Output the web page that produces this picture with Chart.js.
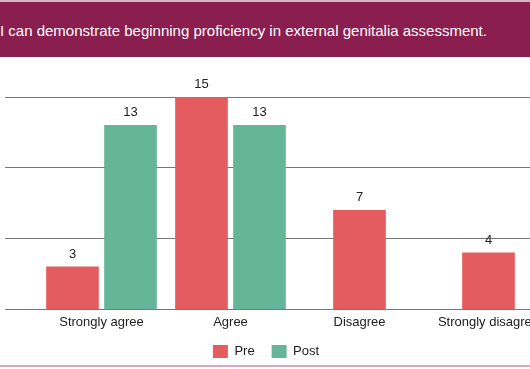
<!DOCTYPE html>
<html>
<head>
<meta charset="utf-8">
<script src="https://cdn.jsdelivr.net/npm/chart.js@4"></script>
<style>
  html, body { margin: 0; padding: 0; background: #fff; overflow: hidden; width: 530px; height: 369px; }
  #topline { position: absolute; left: 0; top: 0; width: 530px; height: 2px; background: #d9b3c4; }
  #title {
    position: absolute; left: 0; top: 2px; width: 530px; height: 55px;
    background: #8a1e4e; color: #fff; white-space: nowrap;
    font: 15px "Liberation Sans", Arial, sans-serif; line-height: 57px;
  }
  #wrap { position: absolute; left: 0; top: 57px; width: 556px; height: 318px; }
  #foot { position: absolute; left: 0; top: 365px; width: 530px; height: 2px; background: #d6a9bd; z-index: 2; }
</style>
</head>
<body>
<div id="topline"></div>
<div id="title">I can demonstrate beginning proficiency in external genitalia assessment.</div>
<div id="wrap"><canvas id="chart"></canvas></div>
<div id="foot"></div>
<script>
const categories = ['Strongly agree', 'Agree', 'Disagree', 'Strongly disagree'];
const preValues = [3, 15, 7, 4];
const postValues = [13, 13, null, null];
const seriesNames = ['Pre', 'Post'];
const yTicks = [0, 5, 10, 15];

Chart.defaults.font.family = '"Liberation Sans", Arial, sans-serif';
Chart.defaults.color = '#222';

// numbers above bars
const valueLabels = {
    id: 'valueLabels',
    afterDatasetsDraw(chart) {
        const ctx = chart.ctx;
        ctx.save();
        ctx.font = '13px "Liberation Sans", Arial, sans-serif';
        ctx.fillStyle = '#222';
        ctx.textAlign = 'center';
        ctx.textBaseline = 'alphabetic';
        chart.data.datasets.forEach((ds, i) => {
            chart.getDatasetMeta(i).data.forEach((bar, j) => {
                const v = ds.data[j];
                if (v === null || v === undefined) return;
                ctx.fillText(String(v), bar.x, bar.y - 9);
            });
        });
        ctx.restore();
    }
};

// the plot runs past the right edge, so centre the legend on the visible part
const legendShift = {
    id: 'legendShift',
    afterLayout(chart) {
        const lg = chart.legend;
        lg.left = 0;
        lg.right = 532;
        lg.top -= 7;
        lg.bottom -= 7;
    }
};

new Chart(document.getElementById('chart'), {
    type: 'bar',
    data: {
        labels: categories,
        datasets: [{
            label: seriesNames[0],
            data: preValues,
            backgroundColor: '#e55c60',
            skipNull: true
        }, {
            label: seriesNames[1],
            data: postValues,
            backgroundColor: '#65b599',
            skipNull: true
        }]
    },
    options: {
        responsive: true,
        maintainAspectRatio: false,
        animation: false,
        skipNull: true,
        barThickness: 58,
        maxBarThickness: 52,
        layout: { padding: { left: 5, right: 3, top: 40, bottom: 0 } },
        scales: {
            x: {
                grid: { display: false, drawTicks: false },
                border: { display: false },
                ticks: { color: '#222', font: { size: 13 }, padding: 5 }
            },
            y: {
                min: yTicks[0],
                max: yTicks[yTicks.length - 1],
                afterBuildTicks: (scale) => { scale.ticks = yTicks.map(v => ({ value: v })); },
                ticks: { display: false },
                border: { display: false },
                grid: { color: '#777', lineWidth: 1, tickLength: 32, drawTicks: true }
            }
        },
        plugins: {
            legend: {
                position: 'bottom',
                labels: { boxWidth: 15, boxHeight: 13, padding: 17, color: '#222', font: { size: 13 } }
            },
            tooltip: { enabled: false }
        }
    },
    plugins: [valueLabels, legendShift]
});
</script>
</body>
</html>
